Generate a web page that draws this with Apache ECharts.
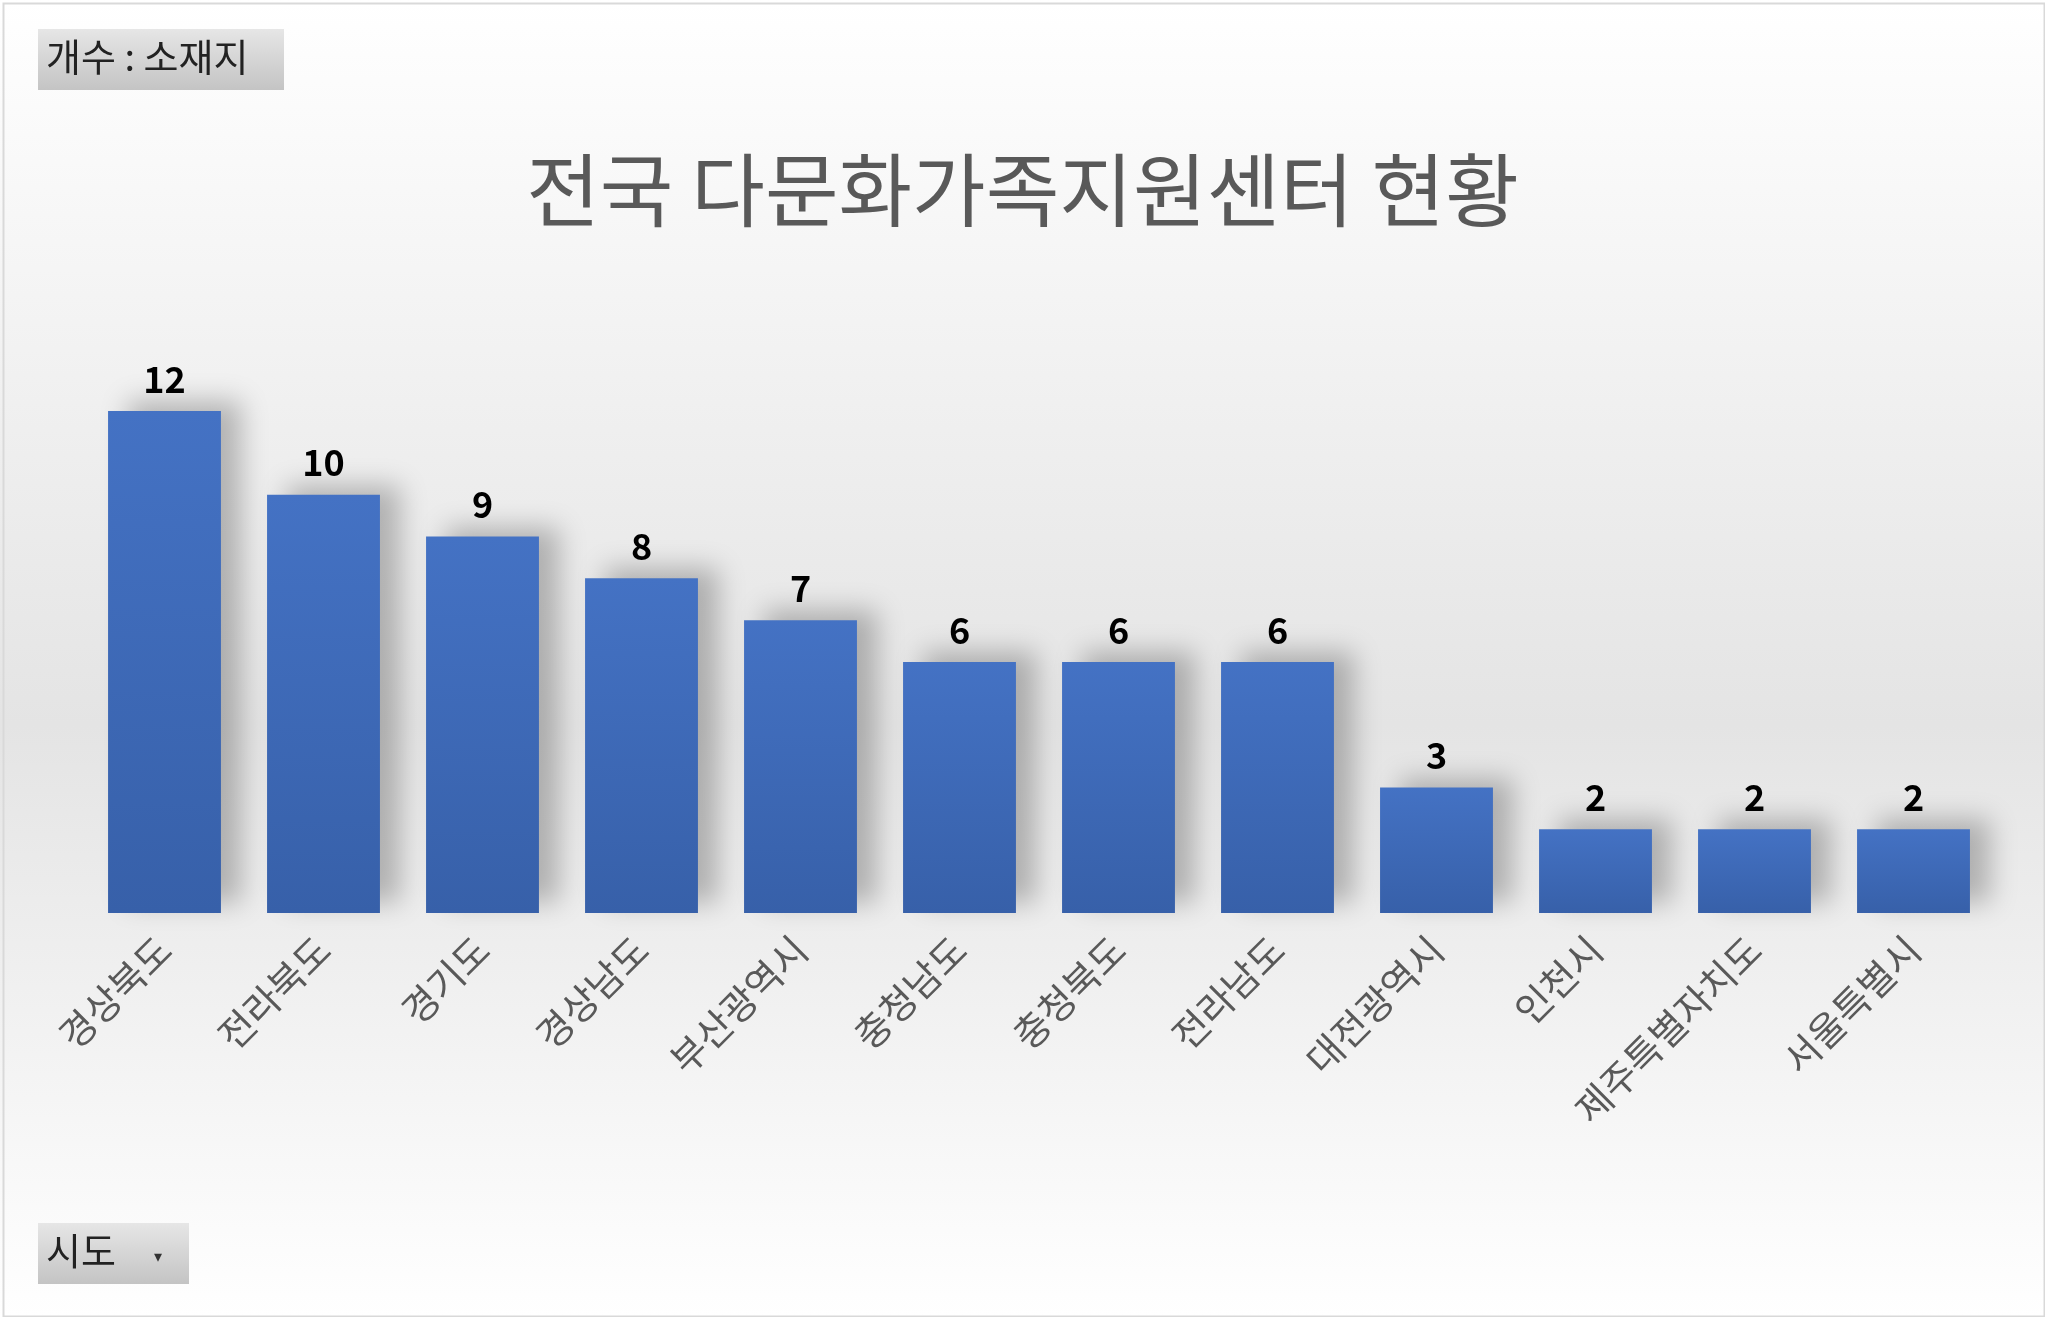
<!DOCTYPE html>
<html>
<head>
<meta charset="utf-8">
<script src="https://cdn.jsdelivr.net/npm/echarts@6/dist/echarts.min.js"></script>
<style>
html,body{margin:0;padding:0;}
#main{width:2045px;height:1317px;}
</style>
</head>
<body>
<div id="main"></div>
<script>
var categories = ['경상북도','전라북도','경기도','경상남도','부산광역시','충청남도','충청북도','전라남도','대전광역시','인천시','제주특별자치도','서울특별시'];
var counts = [12,10,9,8,7,6,6,6,3,2,2,2];

var myChart = echarts.init(document.getElementById('main'));
var font = '"Noto Sans CJK KR", "Noto Sans", sans-serif';

var option = {
    backgroundColor: new echarts.graphic.LinearGradient(0,0,0,1,[
        {offset:0, color:'#ffffff'},
        {offset:0.55, color:'#e4e4e4'},
        {offset:1, color:'#ffffff'}
    ]),
    title: {
        text: '전국 다문화가족지원센터 현황',
        left: 'center', top: 145,
        textStyle: {fontFamily: font, fontSize: 80, fontWeight: 'normal', color: '#595959'}
    },
    grid: {left: 85, right: 52, top: 411, bottom: 404, containLabel: false},
    xAxis: {
        type: 'category',
        data: categories,
        axisLine: {show: false},
        axisTick: {show: false},
        axisLabel: {rotate: 45, color: '#595959', fontSize: 38, fontFamily: font, margin: 30, interval: 0}
    },
    yAxis: {type: 'value', min: 0, max: 12, show: false, splitLine: {show: false}},
    series: [{
        type: 'bar',
        data: counts,
        barCategoryGap: '29%',
        itemStyle: {
            color: new echarts.graphic.LinearGradient(0,0,0,1,[
                {offset:0, color:'#4472c4'},
                {offset:1, color:'#3760a9'}
            ]),
            shadowColor: 'rgba(0,0,0,0.25)', shadowBlur: 25, shadowOffsetX: 20, shadowOffsetY: -10
        },
        label: {show: true, position: 'top', distance: 14, color: '#000', fontSize: 36, fontWeight: 'bold', fontFamily: font}
    }],
    graphic: [
        {type: 'rect', left: 1, top: 1, shape: {width: 2041, height: 1313}, style: {fill: 'none', stroke: '#d9d9d9', lineWidth: 2}},
        {type: 'rect', left: 38, top: 29, shape: {width: 246, height: 61},
         style: {fill: new echarts.graphic.LinearGradient(0,0,0,1,[{offset:0,color:'#e6e6e6'},{offset:1,color:'#c4c4c4'}])}},
        {type: 'text', left: 46, top: 38, style: {text: '개수 : 소재지', font: '38px ' + font, fill: '#222'}},
        {type: 'rect', left: 38, top: 1223, shape: {width: 151, height: 61},
         style: {fill: new echarts.graphic.LinearGradient(0,0,0,1,[{offset:0,color:'#e6e6e6'},{offset:1,color:'#c4c4c4'}])}},
        {type: 'text', left: 46, top: 1232, style: {text: '시도', font: '38px ' + font, fill: '#222'}},
        {type: 'text', left: 154, top: 1248, style: {text: '▾', font: '16px ' + font, fill: '#333'}}
    ]
};
myChart.setOption(option);
</script>
</body>
</html>
